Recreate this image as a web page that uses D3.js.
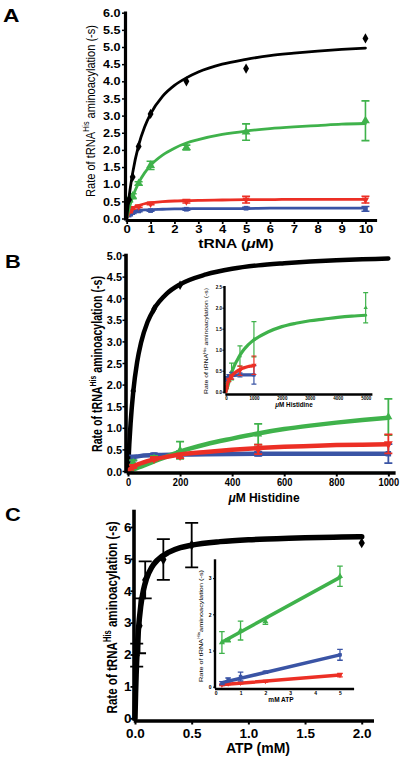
<!DOCTYPE html>
<html><head><meta charset="utf-8">
<script src="https://cdn.jsdelivr.net/npm/d3@7"></script>
<style>body{margin:0;background:#fff}svg{display:block}</style>
</head><body>
<svg id="fig" width="407" height="760"></svg>
<script>
// ---------------- DATA ----------------
// Panel A: tRNA titration
const tRNA = [0.1, 0.25, 0.5, 1, 2.5, 5, 10];
const aBlack = [0.55, 1.21, 2.1, 3.05, 4.0, 4.37, 5.25];
const aGreen = [0.55, 0.65, 1.02, 1.55, 2.07, 2.52, 2.85];
const aGreenErr = [0.06, 0.07, 0.05, 0.12, 0.07, 0.24, 0.58];
const aRed = [0.2, 0.3, 0.35, 0.43, 0.5, 0.55, 0.55];
const aRedErr = [0.03, 0.03, 0.03, 0.03, 0.05, 0.1, 0.1];
const aBlue = [0.1, 0.17, 0.22, 0.23, 0.27, 0.3, 0.28];
const aBlueErr = [0.02, 0.02, 0.02, 0.02, 0.03, 0.03, 0.07];
const aFitX = [0, 0.1, 0.25, 0.5, 0.75, 1, 1.5, 2, 2.5, 3, 4, 5, 6, 7, 8, 9, 10];
const aBlackFit = [0, 0.63, 1.33, 2.14, 2.67, 3.05, 3.56, 3.88, 4.1, 4.27, 4.5, 4.64, 4.75, 4.82, 4.88, 4.93, 4.97];
const aGreenFit = [0, 0.29, 0.63, 1.04, 1.33, 1.55, 1.85, 2.05, 2.2, 2.3, 2.45, 2.55, 2.62, 2.67, 2.71, 2.75, 2.77];
const aRedFit = [0, 0.16, 0.29, 0.38, 0.43, 0.46, 0.49, 0.51, 0.52, 0.53, 0.54, 0.55, 0.55, 0.56, 0.56, 0.56, 0.56];
const aBlueFit = [0, 0.12, 0.19, 0.23, 0.25, 0.26, 0.27, 0.28, 0.28, 0.29, 0.29, 0.29, 0.3, 0.3, 0.3, 0.3, 0.3];
const aXTicks = [0, 1, 2, 3, 4, 5, 6, 7, 8, 9, 10];
const aYTicks = [0, 0.5, 1, 1.5, 2, 2.5, 3, 3.5, 4, 4.5, 5, 5.5, 6];

// Panel B: histidine titration
const his = [20, 100, 200, 500, 1000];
const bBlackX = [20, 100, 200];
const bBlack = [1.85, 3.75, 4.3];
const bGreen = [0.2, 0.3, 0.48, 0.85, 1.25];
const bGreenErr = [0.05, 0.05, 0.2, 0.24, 0.42];
const bRed = [0.1, 0.28, 0.35, 0.5, 0.63];
const bRedErr = [0.03, 0.04, 0.05, 0.11, 0.22];
const bBlue = [0.3, 0.37, 0.38, 0.4, 0.4];
const bBlueErr = [0.06, 0.04, 0.08, 0.05, 0.22];
const bGreenHighX = [5000];
const bGreenHigh = [2.0];
const bGreenHighErr = [0.36];
const bBlackFitX = [0, 5, 10, 20, 35, 50, 75, 100, 150, 200, 300, 400, 500, 600, 700, 800, 900, 1000];
const bBlackFit = [0, 0.62, 1.11, 1.83, 2.52, 2.97, 3.45, 3.75, 4.11, 4.32, 4.55, 4.68, 4.76, 4.81, 4.85, 4.88, 4.9, 4.92];
const bGreenFitX = [0, 50, 100, 150, 200, 300, 400, 500, 600, 700, 800, 900, 1000, 1500, 2000, 2500, 3000, 3500, 4000, 4500, 5000];
const bGreenFit = [0, 0.1, 0.22, 0.34, 0.45, 0.62, 0.75, 0.87, 0.97, 1.05, 1.12, 1.18, 1.23, 1.42, 1.55, 1.63, 1.69, 1.73, 1.77, 1.8, 1.82];
const bRedFitX = [0, 20, 50, 100, 150, 200, 300, 400, 500, 600, 700, 800, 900, 1000];
const bRedFit = [0, 0.1, 0.18, 0.27, 0.33, 0.38, 0.44, 0.49, 0.53, 0.56, 0.58, 0.6, 0.61, 0.62];
const bBlueFitX = [20, 50, 100, 200, 300, 500, 1000];
const bBlueFit = [0.32, 0.35, 0.37, 0.38, 0.39, 0.4, 0.4];
const bXTicks = [0, 200, 400, 600, 800, 1000];
const bYTicks = [0, 0.5, 1, 1.5, 2, 2.5, 3, 3.5, 4, 4.5, 5];
const bInsetXTicks = [0, 1000, 2000, 3000, 4000, 5000];
const bInsetYTicks = [0, 0.5, 1, 1.5, 2, 2.5];

// Panel C: ATP titration
const atp = [0.015, 0.04, 0.09, 0.25, 0.5, 2.0];
const cBlack = [1.98, 2.9, 4.34, 4.98, 5.43, 5.5];
const cBlackErr = [0.36, 0.86, 0.58, 0.64, 0.7, 0];
const cFitX = [0, 0.005, 0.01, 0.02, 0.03, 0.05, 0.075, 0.1, 0.15, 0.2, 0.3, 0.4, 0.5, 0.75, 1, 1.25, 1.5, 1.75, 2.0];
const cBlackFit = [0, 0.77, 1.36, 2.2, 2.77, 3.5, 4.03, 4.36, 4.75, 4.97, 5.21, 5.35, 5.43, 5.54, 5.6, 5.63, 5.66, 5.68, 5.69];
const cXTicks = [0, 0.5, 1.0, 1.5, 2.0];
const cYTicks = [0, 1, 2, 3, 4, 5, 6];
// Panel C inset (mM ATP)
const atpInset = [0.25, 0.5, 1, 2, 5];
const ciGreen = [1.22, 1.28, 1.55, 1.8, 3.05];
const ciGreenErr = [0.3, 0.04, 0.26, 0.08, 0.28];
const ciBlue = [0.1, 0.2, 0.28, 0.4, 0.88];
const ciBlueErr = [0.04, 0.04, 0.12, 0.03, 0.15];
const ciRed = [0.05, 0.08, 0.1, 0.15, 0.32];
const ciRedErr = [0.02, 0.02, 0.02, 0.02, 0.05];
const ciFitX = [0.3, 5];
const ciGreenFit = [1.25, 3.02];
const ciBlueFit = [0.12, 0.88];
const ciRedFit = [0.06, 0.32];
const ciXTicks = [0, 1, 2, 3, 4, 5];
const ciYTicks = [0, 1, 2, 3];

// ---------------- DRAWING ----------------
const FONT = "'Liberation Sans', Arial, Helvetica, sans-serif";
const COL = { black: "#000000", green: "#3fb24b", red: "#ec2f25", blue: "#3a54a5" };
const svg = d3.select("#fig");

const zip = (xs, ys) => xs.map((x, i) => [x, ys[i]]);

function axisLeft(g, y, xPos, ticks, o) {
  const ax = g.append("g").attr("transform", `translate(${xPos},0)`)
    .call(d3.axisLeft(y).tickValues(ticks).tickFormat(o.fmt).tickSize(o.tick).tickSizeOuter(0));
  ax.select(".domain").attr("stroke", "#000").attr("stroke-width", o.w).attr("stroke-linecap", "square");
  ax.selectAll(".tick line").attr("stroke", "#000").attr("stroke-width", o.tw);
  ax.selectAll(".tick text").attr("x", null).attr("dy", o.dy || "0.35em")
    .attr("transform", `translate(${-o.pad},0) scale(${o.sx},1)`)
    .attr("font-family", FONT).attr("font-size", o.fs).attr("font-weight", o.fw || "bold")
    .attr("fill", "#000").attr("text-anchor", "end");
  return ax;
}
function axisBottom(g, x, yPos, ticks, o) {
  const ax = g.append("g").attr("transform", `translate(0,${yPos})`)
    .call(d3.axisBottom(x).tickValues(ticks).tickFormat(o.fmt).tickSize(o.tick).tickSizeOuter(0));
  ax.select(".domain").attr("stroke", "#000").attr("stroke-width", o.w).attr("stroke-linecap", "square");
  ax.selectAll(".tick line").attr("stroke", "#000").attr("stroke-width", o.tw);
  ax.selectAll(".tick text").attr("y", null).attr("dy", "0.71em")
    .attr("transform", `translate(0,${o.pad}) scale(${o.sx},1)`)
    .attr("font-family", FONT).attr("font-size", o.fs).attr("font-weight", o.fw || "bold")
    .attr("fill", "#000").attr("text-anchor", "middle");
  return ax;
}
function yLabel(g, x, y, o) {
  const t = g.append("text")
    .attr("transform", `translate(${x},${y}) scale(${o.sx},1) rotate(-90)`)
    .attr("text-anchor", "middle").attr("font-family", FONT)
    .attr("font-size", o.fs).attr("font-weight", o.fw).attr("fill", "#000");
  t.append("tspan").text("Rate of tRNA");
  t.append("tspan").attr("dy", -o.fs * 0.4).attr("font-size", o.fs * 0.65).text("His");
  t.append("tspan").attr("dy", o.fs * 0.4).text((o.nospace ? "" : " ") + "aminoacylation (-s)");
  if (o.len) t.attr("textLength", o.len).attr("lengthAdjust", "spacingAndGlyphs");
}
function textAt(g, x, y, parts, o) {
  const t = g.append("text")
    .attr("transform", `translate(${x},${y}) scale(${o.sx || 1},1)`)
    .attr("text-anchor", o.anchor || "middle").attr("font-family", FONT)
    .attr("font-size", o.fs).attr("font-weight", o.fw || "bold").attr("fill", "#000");
  parts.forEach(p => t.append("tspan").attr("font-style", p.italic ? "italic" : null).text(p.t));
  return t;
}
function curve(g, x, y, pts, color, w) {
  g.append("path").datum(pts)
    .attr("d", d3.line().x(d => x(d[0])).y(d => y(d[1])).curve(d3.curveMonotoneX))
    .attr("fill", "none").attr("stroke", color).attr("stroke-width", w)
    .attr("stroke-linecap", "round").attr("stroke-linejoin", "round");
}
function errBars(g, x, y, xs, ys, es, color, cap, w) {
  const data = xs.map((v, i) => ({ x: v, y: ys[i], e: es[i] })).filter(d => d.e > 0);
  const eg = g.append("g").attr("stroke", color).attr("stroke-width", w).attr("fill", "none");
  eg.selectAll("path").data(data).join("path")
    .attr("d", d => {
      const cx = x(d.x), y1 = y(d.y + d.e), y0 = y(d.y - d.e);
      return `M${cx},${y0}V${y1}M${cx - cap},${y1}H${cx + cap}M${cx - cap},${y0}H${cx + cap}`;
    });
}
const SYM = {
  diamond: d3.symbolDiamond, triangle: d3.symbolTriangle, down: d3.symbolTriangle, square: d3.symbolSquare
};
function markers(g, x, y, xs, ys, shape, color, size) {
  g.append("g").selectAll("path").data(zip(xs, ys)).join("path")
    .attr("d", d3.symbol().type(SYM[shape]).size(size))
    .attr("transform", d => `translate(${x(d[0])},${y(d[1])})${shape === "down" ? " rotate(180)" : ""}`)
    .attr("fill", color);
}

const f1 = d3.format(".1f");
const f0 = d3.format("d");

// ===== Panel A =====
{
  const g = svg.append("g");
  const x = d3.scaleLinear().domain([0, 10.4]).range([126.7, 375]);
  const y = d3.scaleLinear().domain([0, 6]).range([218.5, 12.7]);
  const series = [
    { ys: aBlue, es: aBlueErr, fit: aBlueFit, c: COL.blue, s: "square", sz: 22 },
    { ys: aRed, es: aRedErr, fit: aRedFit, c: COL.red, s: "down", sz: 24 },
    { ys: aGreen, es: aGreenErr, fit: aGreenFit, c: COL.green, s: "triangle", sz: 34 },
  ];
  series.forEach(s => {
    curve(g, x, y, zip(aFitX, s.fit), s.c, 2.8);
    errBars(g, x, y, tRNA, s.ys, s.es, s.c, 4, 1.6);
    markers(g, x, y, tRNA, s.ys, s.s, s.c, s.sz);
  });
  curve(g, x, y, zip(aFitX, aBlackFit), COL.black, 2.8);
  markers(g, x, y, tRNA, aBlack, "diamond", COL.black, 30);
  axisLeft(g, y, 125, aYTicks, { fmt: f1, tick: 3, w: 3.2, tw: 1.5, pad: 4.5, sx: 1.2, fs: 10.5 });
  axisBottom(g, x, 220, aXTicks, { fmt: f0, tick: 4, w: 3.2, tw: 1.8, pad: 6, sx: 1.25, fs: 10.5 });
  yLabel(g, 94.5, 111, { fs: 11, fw: "normal", sx: 1.15, len: 172 });
  textAt(g, 236, 248, [{ t: "tRNA (" }, { t: "μ", italic: true }, { t: "M)" }], { fs: 12, sx: 1.3 });
  textAt(g, 3, 22, [{ t: "A" }], { fs: 19, sx: 1.2, anchor: "start" });
}

// ===== Panel B =====
{
  const g = svg.append("g");
  const x = d3.scaleLinear().domain([0, 1019]).range([128, 393.3]);
  const y = d3.scaleLinear().domain([0, 5]).range([471, 255]);
  const inRange = (xs, ys) => zip(xs, ys).filter(d => d[0] <= 1000);
  curve(g, x, y, zip(bBlackFitX, bBlackFit), COL.black, 4.5);
  markers(g, x, y, bBlackX, bBlack, "diamond", COL.black, 26);
  curve(g, x, y, zip(bBlueFitX, bBlueFit), COL.blue, 4.5);
  errBars(g, x, y, his, bBlue, bBlueErr, COL.blue, 4, 1.8);
  markers(g, x, y, his, bBlue, "square", COL.blue, 30);
  curve(g, x, y, inRange(bGreenFitX, bGreenFit), COL.green, 4.5);
  errBars(g, x, y, his, bGreen, bGreenErr, COL.green, 4, 1.8);
  markers(g, x, y, his, bGreen, "triangle", COL.green, 28);
  curve(g, x, y, zip(bRedFitX, bRedFit), COL.red, 4.5);
  errBars(g, x, y, his, bRed, bRedErr, COL.red, 4, 1.8);
  markers(g, x, y, his, bRed, "down", COL.red, 34);
  axisLeft(g, y, 125.5, bYTicks, { fmt: f1, tick: 3, w: 3.6, tw: 1.5, pad: 3.5, sx: 0.95, fs: 11.5 });
  axisBottom(g, x, 472.5, bXTicks, { fmt: f0, tick: 4, w: 3.6, tw: 2, pad: 6, sx: 0.85, fs: 11 });
  yLabel(g, 101.5, 364, { fs: 12.5, fw: "bold", sx: 1.2, len: 176 });
  textAt(g, 264, 502, [{ t: "μ", italic: true }, { t: "M Histidine" }], { fs: 12 });
  textAt(g, 5, 268, [{ t: "B" }], { fs: 19, sx: 1.15, anchor: "start" });

  // inset
  const gi = svg.append("g");
  const xi = d3.scaleLinear().domain([0, 5180]).range([226, 370.7]);
  const yi = d3.scaleLinear().domain([0, 2.5]).range([391.7, 286.7]);
  curve(gi, xi, yi, zip(bGreenFitX, bGreenFit), COL.green, 3.2);
  errBars(gi, xi, yi, his.concat(bGreenHighX), bGreen.concat(bGreenHigh), bGreenErr.concat(bGreenHighErr), COL.green, 2.5, 1.2);
  markers(gi, xi, yi, his.concat(bGreenHighX), bGreen.concat(bGreenHigh), "triangle", COL.green, 8);
  curve(gi, xi, yi, zip(bBlueFitX, bBlueFit), COL.blue, 3.2);
  errBars(gi, xi, yi, his, bBlue, bBlueErr, COL.blue, 2.5, 1.2);
  markers(gi, xi, yi, his, bBlue, "square", COL.blue, 10);
  curve(gi, xi, yi, zip(bRedFitX, bRedFit), COL.red, 3.2);
  errBars(gi, xi, yi, his, bRed, bRedErr, COL.red, 2.5, 1.2);
  markers(gi, xi, yi, his, bRed, "down", COL.red, 12);
  axisLeft(gi, yi, 224, bInsetYTicks, { fmt: f1, tick: 1.5, w: 2.4, tw: 1, pad: 2, sx: 1, fs: 4.5 });
  axisBottom(gi, xi, 394, bInsetXTicks, { fmt: f0, tick: 1.5, w: 2.4, tw: 1, pad: 2.5, sx: 1, fs: 4.5 });
  yLabel(gi, 208, 341, { fs: 5.5, fw: "normal", sx: 1.1, len: 106 });
  textAt(gi, 294, 406.5, [{ t: "μ", italic: true }, { t: "M Histidine" }], { fs: 6.3 });
}

// ===== Panel C =====
{
  const g = svg.append("g");
  const x = d3.scaleLinear().domain([0, 2.088]).range([135, 371.7]);
  const y = d3.scaleLinear().domain([0, 6.5]).range([718.3, 511]);
  curve(g, x, y, zip(cFitX, cBlackFit), COL.black, 5.5);
  errBars(g, x, y, atp, cBlack, cBlackErr, COL.black, 6.5, 1.8);
  markers(g, x, y, atp, cBlack, "diamond", COL.black, 34);
  axisLeft(g, y, 133.5, cYTicks, { fmt: f0, tick: 3, w: 3.6, tw: 1.8, pad: 2, sx: 1, fs: 13.5, dy: "0.32em" });
  axisBottom(g, x, 720.5, cXTicks, { fmt: f1, tick: 4, w: 3.6, tw: 2, pad: 8, sx: 1, fs: 13.5 });
  yLabel(g, 117, 617.5, { fs: 13.5, fw: "bold", sx: 1.15, len: 192 });
  textAt(g, 258, 753, [{ t: "ATP (mM)" }], { fs: 14 });
  textAt(g, 5, 521, [{ t: "C" }], { fs: 19, sx: 1.15, anchor: "start" });

  // inset
  const gi = svg.append("g");
  const xi = d3.scaleLinear().domain([0, 5.5]).range([215.7, 352.4]);
  const yi = d3.scaleLinear().domain([0, 3.5]).range([686.7, 560]);
  const ins = [
    { ys: ciRed, es: ciRedErr, fit: ciRedFit, c: COL.red, s: "down", sz: 12 },
    { ys: ciBlue, es: ciBlueErr, fit: ciBlueFit, c: COL.blue, s: "square", sz: 12 },
    { ys: ciGreen, es: ciGreenErr, fit: ciGreenFit, c: COL.green, s: "triangle", sz: 16 },
  ];
  ins.forEach(s => {
    curve(gi, xi, yi, zip(ciFitX, s.fit), s.c, 3.5);
    errBars(gi, xi, yi, atpInset, s.ys, s.es, s.c, 2.8, 1.3);
    markers(gi, xi, yi, atpInset, s.ys, s.s, s.c, s.sz);
  });
  axisLeft(gi, yi, 214.5, ciYTicks, { fmt: f0, tick: 1.5, w: 2.4, tw: 1, pad: 3, sx: 1, fs: 5 });
  axisBottom(gi, xi, 688.5, ciXTicks, { fmt: f0, tick: 1.5, w: 2.4, tw: 1, pad: 2.5, sx: 1, fs: 5 });
  yLabel(gi, 202.5, 626, { fs: 5.5, fw: "normal", sx: 1.1, len: 112, nospace: true });
  textAt(gi, 281, 702, [{ t: "mM ATP" }], { fs: 6.5 });
}
</script>
</body></html>
